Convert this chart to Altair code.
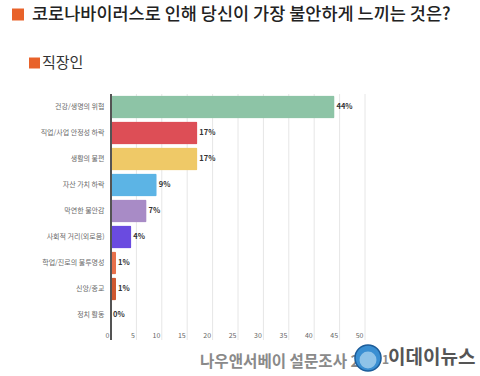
import altair as alt
import pandas as pd

categories = ["건강/생명의 위협", "직업/사업 안정성 하락", "생활의 불편", "자산 가치 하락",
              "막연한 불안감", "사회적 거리(외로움)", "학업/진로의 불투명성", "신앙/종교", "정치 활동"]
values = [44, 17, 17, 9, 7, 4, 1, 1, 0]
labels = ["44%", "17%", "17%", "9%", "7%", "4%", "1%", "1%", "0%"]
colors = ["#8dc4a6", "#dd4e56", "#efc967", "#5cb4e5", "#a88bc6", "#6a4be0", "#e8704a", "#cf5830", "#cf5830"]
grid_ticks = [0, 5, 10, 15, 20, 25, 30, 35, 40, 45, 50]

title_text = "코로나바이러스로 인해 당신이 가장 불안하게 느끼는 것은?"
legend_text = "직장인"
source_text = "나우앤서베이 설문조사 2"
source_tail = "1"
logo_text = "이데이뉴스"

FONT = "Noto Sans CJK KR"

df = pd.DataFrame({"cat": categories, "val": values, "lab": labels})
gdf = pd.DataFrame({"t": grid_ticks})

W, H = 254, 246

xscale = alt.Scale(domain=[0, 50], nice=False)
yscale = alt.Scale(domain=categories, range=[0, 234], paddingInner=0.12, paddingOuter=0.06)

xaxis = alt.Axis(values=grid_ticks, grid=False, domain=False, ticks=False, title=None,
                 labelFont=FONT, labelFontSize=7, labelColor="#666666",
                 labelAlign="right", labelOffset=-2, labelBaseline="middle", labelPadding=-5)

grid = alt.Chart(gdf).mark_rule(color="#e6e6e6", strokeWidth=1).encode(
    x=alt.X("t:Q", scale=xscale, axis=xaxis),
    y=alt.value(0), y2=alt.value(H),
)

bars = alt.Chart(df).mark_bar(cornerRadius=1.5).encode(
    x=alt.X("val:Q", scale=xscale, axis=xaxis),
    y=alt.Y("cat:N", sort=categories, scale=yscale, axis=alt.Axis(
        title=None, domain=False, ticks=False, grid=False,
        labelFont=FONT, labelFontSize=7, labelColor="#6a6a6a", labelPadding=7)),
    color=alt.Color("cat:N", scale=alt.Scale(domain=categories, range=colors), legend=None),
)

vals = alt.Chart(df).mark_text(align="left", dx=2, font=FONT, fontSize=7.5, fontWeight="bold",
                               color="#333333").encode(
    x=alt.X("val:Q", scale=xscale, axis=xaxis),
    y=alt.Y("cat:N", sort=categories, scale=yscale),
    text="lab:N",
)

axis_line = alt.Chart(df).mark_rule(color="#555555", strokeWidth=1.5).encode(
    x=alt.value(0), y=alt.value(0), y2=alt.value(H))

def txt(s, x, y, size, color, weight="normal", align="left"):
    return alt.Chart(pd.DataFrame({"s": [s]})).mark_text(
        align=align, baseline="middle", font=FONT, fontSize=size, fontWeight=weight, color=color
    ).encode(x=alt.value(x), y=alt.value(y), text="s:N")

def sq(x, y, size, color):
    return alt.Chart(pd.DataFrame({"s": [0]})).mark_square(size=size, color=color, opacity=1).encode(
        x=alt.value(x), y=alt.value(y))

def circ(x, y, size, color, stroke):
    return alt.Chart(pd.DataFrame({"s": [0]})).mark_circle(size=size, color=color, opacity=1,
                                                           stroke=stroke, strokeWidth=1.5).encode(
        x=alt.value(x), y=alt.value(y))

OX, OY = 111, 94
title = txt(title_text, 32 - OX, 15 - OY, 17.5, "#222222", weight=500)
title_sq = sq(18 - OX, 14.5 - OY, 144, "#e8622a")
leg = txt(legend_text, 42 - OX, 63 - OY, 15, "#333333")
leg_sq = sq(34.5 - OX, 63 - OY, 121, "#e8622a")
src = txt(source_text, 200 - OX, 362 - OY, 15.6, "#8a8a8a", weight="bold")
logo = circ(368 - OX, 358 - OY, 680, "#3a8fd2", "#1d5d9a")
logo_in = circ(368 - OX, 360 - OY, 240, "#8fc3e8", "#8fc3e8")
tail = txt(source_tail, 382 - OX, 360 - OY, 12, "#8a8a8a", weight="bold")
brand = txt(logo_text, 388 - OX, 358 - OY, 19, "#555555", weight="bold")

chart = alt.layer(grid, bars, vals, axis_line, title_sq, title, leg_sq, leg, src, logo, logo_in, tail, brand).properties(
    width=W, height=H,
    autosize=alt.AutoSizeParams(type="none"),
    padding={"left": OX, "top": OY, "right": 480 - OX - W, "bottom": 376 - OY - H},
    background="white",
).configure_view(stroke=None)

chart.save("out.html", embed_options={"renderer": "svg", "actions": False})
